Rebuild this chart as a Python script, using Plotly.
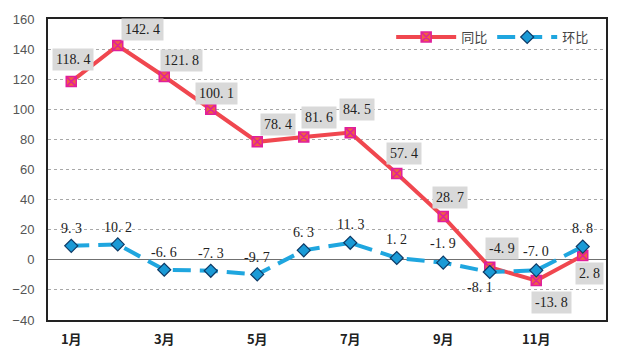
import plotly.graph_objects as go

months = ["1月", "2月", "3月", "4月", "5月", "6月", "7月", "8月", "9月", "10月", "11月", "12月"]
yoy = [118.4, 142.4, 121.8, 100.1, 78.4, 81.6, 84.5, 57.4, 28.7, -4.9, -13.8, 2.8]
mom = [9.3, 10.2, -6.6, -7.3, -9.7, 6.3, 11.3, 1.2, -1.9, -8.1, -7.0, 8.8]
tick_months = ["1月", "3月", "5月", "7月", "9月", "11月"]
y_ticks = [-40, -20, 0, 20, 40, 60, 80, 100, 120, 140, 160]

# label offsets (pixels) for readability
yoy_shift = [(2, 22), (25, 16), (17, 16), (6, 16), (21, 17), (15, 19), (7, 23), (7, 20), (7, 19), (12, 19), (15, -22), (7, -18)]
mom_shift = [(0, 17), (0, 17), (0, 17), (0, 17), (0, 17), (0, 18), (0, 18), (0, 18), (0, 19), (-10, -16), (0, 19), (0, 18)]

RED = "#F0474F"
BLUE = "#1FA6DF"
num_font = dict(family="Liberation Serif, DejaVu Serif, serif", size=14, color="#222222")

fig = go.Figure()
fig.add_trace(go.Scatter(
    x=months, y=yoy, name="同比", mode="lines+markers",
    line=dict(color=RED, width=4),
    marker=dict(symbol="square-x", size=10, color="#F06040", line=dict(color="#E0209A", width=1.5)),
))
fig.add_trace(go.Scatter(
    x=months, y=mom, name="环比", mode="lines+markers",
    line=dict(color=BLUE, width=4, dash="18px,9px"),
    marker=dict(symbol="diamond", size=10, color="#1A9AD6", line=dict(color="#0D3A66", width=1.2)),
))

for m, v, (dx, dy) in zip(months, yoy, yoy_shift):
    fig.add_annotation(x=m, y=v, text=f"{v:.1f}".replace(".", ". "), showarrow=False,
                       xshift=dx, yshift=dy, bgcolor="#D9D9D9", borderpad=3,
                       font=num_font)
for m, v, (dx, dy) in zip(months, mom, mom_shift):
    fig.add_annotation(x=m, y=v, text=f"{v:.1f}".replace(".", ". "), showarrow=False,
                       xshift=dx, yshift=dy, font=num_font)

fig.update_layout(
    width=620, height=360,
    margin=dict(l=47, r=13, t=17, b=35),
    paper_bgcolor="white", plot_bgcolor="white",
    showlegend=True,
    legend=dict(orientation="h", x=0.615, y=0.94, xanchor="left", yanchor="middle",
                bgcolor="rgba(0,0,0,0)", font=dict(family="Noto Sans CJK SC", size=13, color="#444444"),
                itemwidth=60, tracegroupgap=0),
    font=dict(family="Noto Sans CJK SC"),
)
fig.update_xaxes(
    type="category", categoryorder="array", categoryarray=months,
    tickvals=tick_months, ticktext=[f"<b>{t}</b>" for t in tick_months],
    range=[-0.5, 11.5], showgrid=False,
    showline=True, linecolor="#222222", linewidth=2, mirror=True,
    ticks="", ticklabelstandoff=6,
    tickfont=dict(family="Noto Sans CJK SC", size=13, color="#222222"),
)
fig.update_yaxes(
    range=[-40, 160], tickvals=y_ticks,
    showgrid=True, gridcolor="#A8A8A8", griddash="dot", gridwidth=1,
    zeroline=True, zerolinecolor="#707070", zerolinewidth=1,
    showline=True, linecolor="#222222", linewidth=2, mirror=True,
    ticks="", ticklabelstandoff=9,
    tickfont=dict(family="Liberation Sans, Arial", size=13, color="#555555"),
)

fig.write_html("out.html", config={"displayModeBar": False},
               post_script="document.body.style.margin='0';")
